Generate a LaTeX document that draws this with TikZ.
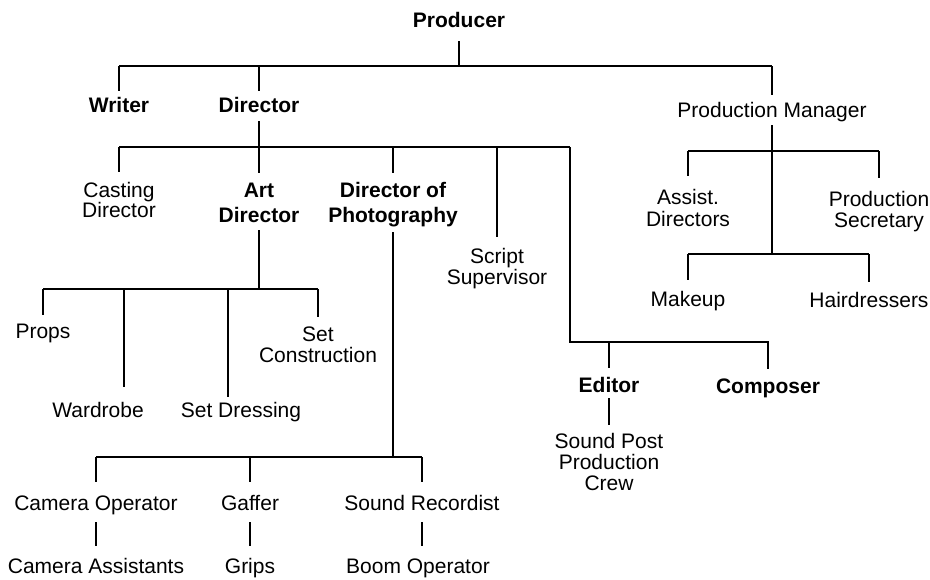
\documentclass[tikz,border=0pt]{standalone}
\usepackage{fontspec}
\setmainfont{Liberation Sans}
\begin{document}
\begin{tikzpicture}[x=1pt,y=-1pt,
  lbl/.style={anchor=base, inner sep=0pt, align=center, font=\fontsize{21}{21}\selectfont},
  bl/.style={anchor=base, inner sep=0pt, align=center, font=\bfseries\fontsize{21}{25}\selectfont},
  conn/.style={line width=1.8pt}]
\useasboundingbox (0,0) rectangle (930,579);
% nodes (multi-line nodes are placed at the baseline of their last line)
\node[bl] (prod) at (459,27) {Producer};
\node[bl] (writer) at (119,112) {Writer};
\node[bl] (dir) at (259,112) {Director};
\node[lbl] (pm) at (772,117) {Production Manager};
\node[lbl,font=\fontsize{21}{20}\selectfont] (cast) at (119,217) {Casting\\Director};
\node[bl] (art) at (259,222) {Art\\Director};
\node[bl] (dop) at (393,222) {Director of\\Photography};
\node[lbl] (script) at (497,284) {Script\\Supervisor};
\node[lbl,font=\fontsize{21}{22}\selectfont] (assist) at (688,226) {Assist.\\Directors};
\node[lbl] (psec) at (879,227) {Production\\Secretary};
\node[lbl] (makeup) at (688,306) {Makeup};
\node[lbl] (hair) at (869,307) {Hairdressers};
\node[bl] (editor) at (609,392) {Editor};
\node[bl] (composer) at (768,393) {Composer};
\node[lbl] (spost) at (609,490) {Sound Post\\Production\\Crew};
\node[lbl] (props) at (43,338) {Props};
\node[lbl] (setcon) at (318,362) {Set\\Construction};
\node[lbl] (wardrobe) at (98,417) {Wardrobe};
\node[lbl] (setdress) at (241,417) {Set Dressing};
\node[lbl] (camop) at (96,510) {Camera Operator};
\node[lbl] (gaffer) at (250,510) {Gaffer};
\node[lbl] (sound) at (422,510) {Sound Recordist};
\node[lbl] (camass) at (96,573) {Camera Assistants};
\node[lbl] (grips) at (250,573) {Grips};
\node[lbl] (boom) at (418,573) {Boom Operator};
% junctions
\coordinate (j0) at (459,66);
\coordinate (j1) at (259,147);
\coordinate (edj) at (570,147);
\coordinate (edb) at (570,342);
\coordinate (ab) at (259,289);
\coordinate (wtop) at (124,289);
\coordinate (sdtop) at (228,289);
\coordinate (db) at (393,457);
\coordinate (pj1) at (772,151);
\coordinate (pj2) at (772,254);
\begin{scope}[conn]
% producer level
\draw ([yshift=-14pt]prod.base) -- (j0);
\draw (writer.base |- j0) -- (pm.base |- j0);
\draw (writer.base |- j0) -- ([yshift=21pt]writer.base);
\draw (dir.base |- j0) -- ([yshift=21pt]dir.base);
\draw (pm.base |- j0) -- ([yshift=22pt]pm.base);
% director level
\draw ([yshift=-9pt]dir.base) -- ([yshift=49pt]art.base);
\draw (cast.base |- j1) -- (edj);
\draw (cast.base |- j1) -- ([yshift=45pt]cast.base);
\draw (dop.base |- j1) -- ([yshift=49pt]dop.base);
\draw (script.base |- j1) -- ([yshift=47pt]script.base);
\draw (edj) -- (edb) -- (composer.base |- edb) -- ([yshift=24pt]composer.base);
\draw (editor.base |- edb) -- ([yshift=24pt]editor.base);
\draw ([yshift=-6pt]editor.base) -- ([yshift=65pt]spost.base);
% art director
\draw ([yshift=-8pt]art.base) -- (ab);
\draw (props.base |- ab) -- (setcon.base |- ab);
\draw (props.base |- ab) -- ([yshift=23pt]props.base);
\draw (wtop) -- ([xshift=26pt,yshift=30pt]wardrobe.base);
\draw (sdtop) -- ([xshift=-13pt,yshift=20pt]setdress.base);
\draw (setcon.base |- ab) -- ([yshift=45pt]setcon.base);
% director of photography
\draw ([yshift=-10pt]dop.base) -- (db);
\draw (camop.base |- db) -- (sound.base |- db);
\draw (camop.base |- db) -- ([yshift=28pt]camop.base);
\draw (gaffer.base |- db) -- ([yshift=28pt]gaffer.base);
\draw (sound.base |- db) -- ([yshift=28pt]sound.base);
\draw ([yshift=-12pt]camop.base) -- ([yshift=27pt]camass.base);
\draw ([yshift=-12pt]gaffer.base) -- ([yshift=27pt]grips.base);
\draw ([yshift=-12pt]sound.base) -- ([yshift=-36pt]sound.base);
% production manager
\draw ([yshift=-8pt]pm.base) -- (pj2);
\draw (assist.base |- pj1) -- (psec.base |- pj1);
\draw (assist.base |- pj1) -- ([yshift=50pt]assist.base);
\draw (psec.base |- pj1) -- ([yshift=49pt]psec.base);
\draw (makeup.base |- pj2) -- (hair.base |- pj2);
\draw (makeup.base |- pj2) -- ([yshift=26pt]makeup.base);
\draw (hair.base |- pj2) -- ([yshift=25pt]hair.base);
\end{scope}
\end{tikzpicture}
\end{document}
